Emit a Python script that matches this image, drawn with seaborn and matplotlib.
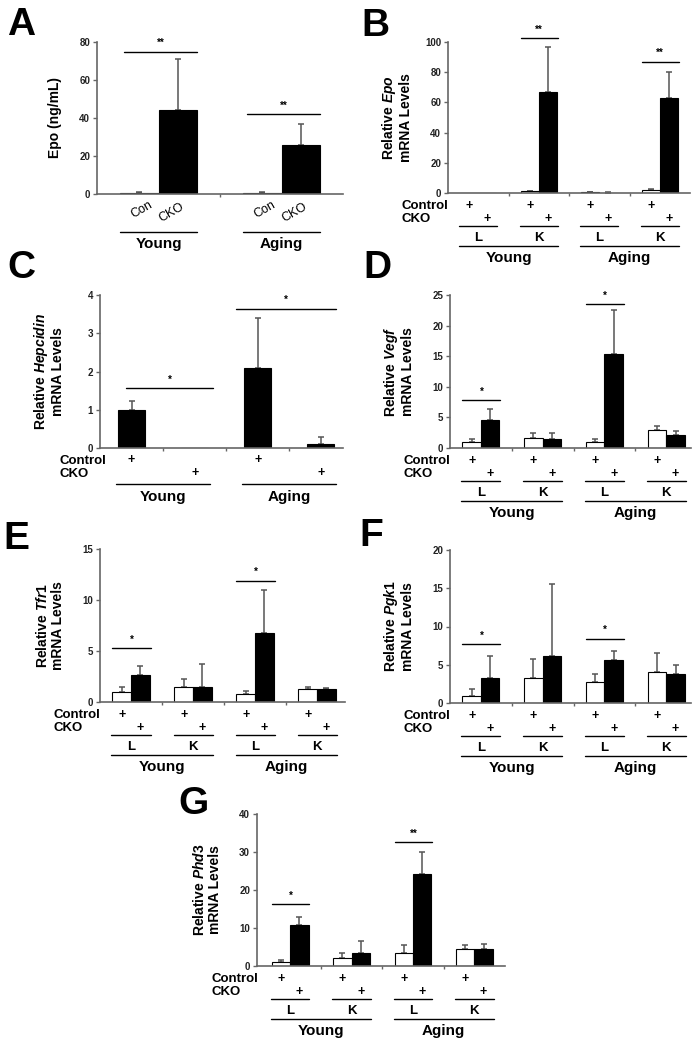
import numpy as np
import pandas as pd
import seaborn as sns
import matplotlib
matplotlib.use("Agg")
import matplotlib.pyplot as plt

sns.set_style("ticks")
plt.rcParams["font.family"] = ["Liberation Sans", "DejaVu Sans"]
plt.rcParams["font.weight"] = "bold"
plt.rcParams["text.color"] = "black"
plt.rcParams["axes.labelcolor"] = "black"
plt.rcParams["mathtext.fontset"] = "custom"
plt.rcParams["mathtext.rm"] = "Liberation Sans:bold"
plt.rcParams["mathtext.it"] = "Liberation Sans:italic:bold"
plt.rcParams["mathtext.bf"] = "Liberation Sans:bold"

# ---- data ----
groups4 = ["Young L", "Young K", "Aging L", "Aging K"]
ages = ["Young", "Aging"]
tissues = ["L", "K", "L", "K"]

# A: serum Epo
a_groups = ["Young", "Aging"]
a_con = [0.5, 0.5]
a_con_sd = [0.3, 0.3]
a_cko = [44, 26]
a_cko_sd = [27, 11]
a_sig = [75, 42]

# B: Epo mRNA
b_con = [0.05, 1.0, 0.5, 2.0]
b_con_sd = [0, 0.3, 0.2, 0.6]
b_cko = [0.05, 67, 0.3, 63]
b_cko_sd = [0, 30, 0.1, 17]
b_sig_groups = [1, 3]
b_sig = [102.6, 87]
b_stars = ["**", "**"]

# C: Hepcidin mRNA
c_labels = ["Young Con", "Young CKO", "Aging Con", "Aging CKO"]
c_vals = [1.0, 0.0, 2.1, 0.1]
c_sd = [0.22, 0.0, 1.3, 0.18]
c_sig = [1.57, 3.64]

# D: Vegf
d_con = [1.0, 1.6, 1.0, 3.0]
d_con_sd = [0.5, 0.8, 0.4, 0.6]
d_cko = [4.5, 1.5, 15.3, 2.2]
d_cko_sd = [1.8, 1.0, 7.2, 0.5]
d_sig = [7.8, 23.5]
d_stars = ["*", "*"]

# E: Tfr1
e_con = [1.0, 1.5, 0.8, 1.3]
e_con_sd = [0.5, 0.8, 0.3, 0.2]
e_cko = [2.6, 1.5, 6.8, 1.3]
e_cko_sd = [0.9, 2.2, 4.2, 0.1]
e_sig = [5.3, 11.9]
e_stars = ["*", "*"]

# F: Pgk1
f_con = [0.9, 3.3, 2.7, 4.0]
f_con_sd = [0.9, 2.4, 1.1, 2.6]
f_cko = [3.3, 6.1, 5.6, 3.8]
f_cko_sd = [2.8, 9.4, 1.2, 1.2]
f_sig = [7.7, 8.4]
f_stars = ["*", "*"]

# G: Phd3
g_con = [1.0, 2.2, 3.3, 4.6]
g_con_sd = [0.6, 1.3, 2.2, 1.0]
g_cko = [10.8, 3.3, 24.3, 4.6]
g_cko_sd = [2.2, 3.2, 5.7, 1.2]
g_sig = [16.3, 32.6]
g_stars = ["*", "**"]

W, H = 696, 1050
fig = plt.figure(figsize=(W / 100, H / 100), dpi=100)
SPINE = "#666666"
ERR = "#555555"


def make_ax(l, t, r, b):
    ax = fig.add_axes([l / W, 1 - b / H, (r - l) / W, (b - t) / H])
    ax.px = (r - l, b - t)
    return ax


def style(ax, ymax, yticks, xlim, ylabel, xticks):
    wpx, hpx = ax.px
    ax.set_ylim(0, ymax)
    ax.set_yticks(yticks)
    ax.set_xlim(*xlim)
    ax.set_xticks(xticks)
    ax.set_xticklabels([])
    ax.set_xlabel("")
    sns.despine(ax=ax)
    for s in ["left", "bottom"]:
        ax.spines[s].set_color(SPINE)
        ax.spines[s].set_linewidth(1.2)
    ax.tick_params(axis="y", labelsize=7, length=3, width=1, color=SPINE,
                   labelcolor="#222222", pad=2)
    ax.tick_params(axis="x", length=2, width=1, color=SPINE)
    ax.set_ylabel(ylabel, fontsize=10, fontweight="bold", linespacing=1.05)
    ax.yaxis.set_label_coords(-35 / wpx, 0.5)


def add_errors(ax, xs, vals, sds):
    keep = [i for i in range(len(sds)) if sds[i] > 0]
    ax.errorbar([xs[i] for i in keep], [vals[i] for i in keep],
                yerr=[[0] * len(keep), [sds[i] for i in keep]],
                fmt="none", ecolor=ERR, elinewidth=1.1, capsize=2.2,
                capthick=1.1, zorder=1)


def bar_geom(ax):
    bars = sorted(ax.patches, key=lambda p: p.get_x())
    xs = [b.get_x() + b.get_width() / 2 for b in bars]
    return bars, xs


def grouped(ax, groups, con, con_sd, cko, cko_sd, width):
    df = pd.DataFrame({"group": groups * 2,
                       "geno": ["Con"] * len(groups) + ["CKO"] * len(groups),
                       "value": con + cko})
    sns.barplot(data=df, x="group", y="value", hue="geno", order=groups,
                hue_order=["Con", "CKO"], palette={"Con": "white", "CKO": "black"},
                edgecolor="black", linewidth=0.8, width=width, errorbar=None,
                legend=False, ax=ax, zorder=2)
    bars, xs = bar_geom(ax)
    vals, sds = [], []
    for i in range(len(groups)):
        vals += [con[i], cko[i]]
        sds += [con_sd[i], cko_sd[i]]
    add_errors(ax, xs, vals, sds)
    return bars, xs


def sig_line(ax, x0, x1, y, star):
    ax.plot([x0, x1], [y, y], color="black", lw=1, clip_on=False)
    ax.annotate(star, ((x0 + x1) / 2, y), xytext=(0, 2.5), textcoords="offset points",
                ha="center", va="bottom", fontsize=7, annotation_clip=False)


def below_text(ax, x, dy, s, size, **kw):
    ax.text(x, -dy / ax.px[1], s, transform=ax.get_xaxis_transform(),
            ha=kw.pop("ha", "center"), va="center", fontsize=size, clip_on=False, **kw)


def below_line(ax, x0, x1, dy):
    y = -dy / ax.px[1]
    ax.plot([x0, x1], [y, y], color="black", lw=1,
            transform=ax.get_xaxis_transform(), clip_on=False)


def row_labels(ax, dx=46):
    wpx, hpx = ax.px
    ax.text(-dx / wpx, -13 / hpx, "Control", transform=ax.transAxes,
            ha="left", va="center", fontsize=9.5)
    ax.text(-dx / wpx, -26 / hpx, "CKO", transform=ax.transAxes,
            ha="left", va="center", fontsize=9.5)


def four_group_labels(ax, bars, xs):
    row_labels(ax)
    half = bars[0].get_width()
    for g in range(4):
        xc, xk = xs[2 * g], xs[2 * g + 1]
        below_text(ax, xc, 13, "+", 9)
        below_text(ax, xk, 26, "+", 9)
        below_line(ax, xc - half * 0.55, xk + half * 0.55, 33)
        below_text(ax, (xc + xk) / 2, 45, tissues[g], 9.5)
    for a in range(2):
        x0 = xs[4 * a] - half * 0.55
        x1 = xs[4 * a + 3] + half * 0.55
        below_line(ax, x0, x1, 53)
        below_text(ax, (x0 + x1) / 2, 65, ages[a], 11)


def four_group_panel(box, con, con_sd, cko, cko_sd, sig_groups, sig, stars,
                     ymax, yticks, xlim, ylabel):
    ax = make_ax(*box)
    bars, xs = grouped(ax, groups4, con, con_sd, cko, cko_sd, 0.6)
    style(ax, ymax, yticks, xlim, ylabel, [0.5, 1.5, 2.5])
    half = bars[0].get_width() / 2
    for g, y, st in zip(sig_groups, sig, stars):
        sig_line(ax, xs[2 * g] - half, xs[2 * g + 1] + half * 1.1, y, st)
    four_group_labels(ax, bars, xs)
    return ax


# ---- A ----
axA = make_ax(97, 42, 343, 194)
barsA, xsA = grouped(axA, a_groups, a_con, a_con_sd, a_cko, a_cko_sd, 0.62)
style(axA, 80, [0, 20, 40, 60, 80], (-0.5, 1.5), "Epo (ng/mL)", [0.5])
hA = barsA[0].get_width() / 2
for g in range(2):
    sig_line(axA, xsA[2 * g] - hA * 0.8, xsA[2 * g + 1] + hA, a_sig[g], "**")
    below_text(axA, xsA[2 * g] + 0.02, 16, "Con", 9, rotation=30, fontweight="normal")
    below_text(axA, xsA[2 * g + 1] - 0.05, 19, "CKO", 9, rotation=30, fontweight="normal")
    below_line(axA, xsA[2 * g] - hA, xsA[2 * g + 1] + hA, 38)
    below_text(axA, (xsA[2 * g] + xsA[2 * g + 1]) / 2, 50, a_groups[g], 11)

# ---- B ----
four_group_panel((448, 42, 690, 193), b_con, b_con_sd, b_cko, b_cko_sd,
                 b_sig_groups, b_sig, b_stars, 100, [0, 20, 40, 60, 80, 100],
                 (-0.5, 3.5), "Relative $\\mathit{Epo}$\nmRNA Levels")

# ---- C ----
axC = make_ax(100, 295, 343, 448)
dfC = pd.DataFrame({"cond": c_labels, "value": c_vals})
sns.barplot(data=dfC, x="cond", y="value", order=c_labels, color="black",
            edgecolor="black", linewidth=0.8, width=0.43, errorbar=None, ax=axC, zorder=2)
barsC, xsC = bar_geom(axC)
add_errors(axC, xsC, c_vals, c_sd)
style(axC, 4, [0, 1, 2, 3, 4], (-0.5, 3.35),
      "Relative $\\mathit{Hepcidin}$\nmRNA Levels", [0.5, 1.5, 2.5])
wC = barsC[0].get_width()
row_labels(axC, dx=41)
for a in range(2):
    x0 = xsC[2 * a] - wC / 2 - 0.03
    x1 = xsC[2 * a + 1] + wC / 2 + 0.03
    sig_line(axC, x0 + (0.15 if a == 0 else -0.1), x1 + (0.05 if a == 0 else 0), c_sig[a], "*")
    below_text(axC, xsC[2 * a], 12, "+", 9)
    below_text(axC, xsC[2 * a + 1], 25, "+", 9)
    below_line(axC, x0, x1, 36)
    below_text(axC, (x0 + x1) / 2, 49, ages[a], 11)

# ---- D ----
four_group_panel((450, 295, 691, 448), d_con, d_con_sd, d_cko, d_cko_sd,
                 [0, 2], d_sig, d_stars, 25, [0, 5, 10, 15, 20, 25],
                 (-0.5, 3.4), "Relative $\\mathit{Vegf}$\nmRNA Levels")

# ---- E ----
four_group_panel((100, 549, 345, 702), e_con, e_con_sd, e_cko, e_cko_sd,
                 [0, 2], e_sig, e_stars, 15, [0, 5, 10, 15],
                 (-0.5, 3.45), "Relative $\\mathit{Tfr1}$\nmRNA Levels")

# ---- F ----
four_group_panel((450, 550, 691, 703), f_con, f_con_sd, f_cko, f_cko_sd,
                 [0, 2], f_sig, f_stars, 20, [0, 5, 10, 15, 20],
                 (-0.5, 3.4), "Relative $\\mathit{Pgk1}$\nmRNA Levels")

# ---- G ----
four_group_panel((257, 814, 505, 966), g_con, g_con_sd, g_cko, g_cko_sd,
                 [0, 2], g_sig, g_stars, 40, [0, 10, 20, 30, 40],
                 (-0.54, 3.5), "Relative $\\mathit{Phd3}$\nmRNA Levels")

# panel letters
for lab, x, y in [("A", 21, 25), ("B", 375, 26), ("C", 21, 268), ("D", 377, 268),
                  ("E", 16, 539), ("F", 371, 536), ("G", 194, 804)]:
    fig.text(x / W, 1 - y / H, lab, fontsize=28, fontweight="bold",
             ha="center", va="center")

fig.savefig("out.png", dpi=100, facecolor="white")
